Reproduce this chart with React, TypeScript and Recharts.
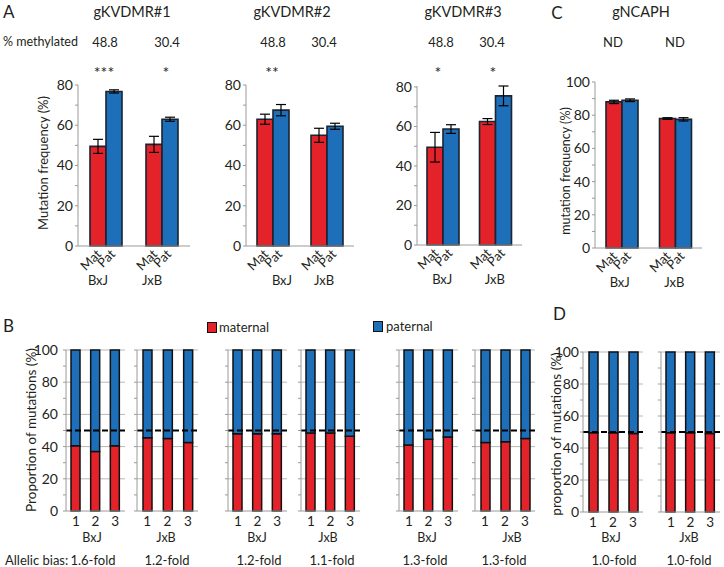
import React from 'react';
import { BarChart, Bar, XAxis, YAxis, ErrorBar, ReferenceLine, CartesianGrid } from 'recharts';

const FONT = 'Lato, "Open Sans", sans-serif';
const RED = '#e4222a';
const BLUE = '#1c6fb8';
const EDGE = '#1b2430';
const AXIS = '#9a9a9a';
const INK = '#231f20';

const CROSSES = ['BxJ', 'JxB'];
const REPLICATES = ['1', '2', '3'];

// A / C: mutation frequency (%), mean and error per cross
const KV1_MAT = [49.5, 50.5];
const KV1_PAT = [76.8, 63];
const KV1_MAT_ERR = [3.5, 4];
const KV1_PAT_ERR = [0.8, 1];

const KV2_MAT = [63, 55];
const KV2_PAT = [67.5, 59.5];
const KV2_MAT_ERR = [2.5, 3.5];
const KV2_PAT_ERR = [2.8, 1.5];

const KV3_MAT = [49.5, 62.5];
const KV3_PAT = [58.7, 75.5];
const KV3_MAT_ERR = [7.5, 1.5];
const KV3_PAT_ERR = [2.2, 5];

const NCAPH_MAT = [88, 78];
const NCAPH_PAT = [89, 77.5];
const NCAPH_MAT_ERR = [1, 0.5];
const NCAPH_PAT_ERR = [0.8, 1];

const FREQ_TICKS_80 = [0, 10, 20, 30, 40, 50, 60, 70, 80];
const FREQ_TICKS_100 = [0, 10, 20, 30, 40, 50, 60, 70, 80, 90, 100];
const PROP_TICKS = [0, 10, 20, 30, 40, 50, 60, 70, 80, 90, 100];
const PROP_GRID = [20, 40, 60, 80, 100];

const KV_METHYLATED = ['48.8', '30.4'];
const NCAPH_METHYLATED = ['ND', 'ND'];
const KV1_STARS = ['***', '*'];
const KV2_STARS = ['**', ''];
const KV3_STARS = ['*', '*'];

// B / D: proportion of maternal vs paternal mutations (%)
const KV1_BXJ_MAT = [40.5, 37, 40.5];
const KV1_BXJ_PAT = [59.5, 63, 59.5];
const KV1_JXB_MAT = [45.5, 45, 42.5];
const KV1_JXB_PAT = [54.5, 55, 57.5];
const KV2_BXJ_MAT = [48, 48, 48];
const KV2_BXJ_PAT = [52, 52, 52];
const KV2_JXB_MAT = [48.5, 48.5, 46.5];
const KV2_JXB_PAT = [51.5, 51.5, 53.5];
const KV3_BXJ_MAT = [41, 44.5, 46];
const KV3_BXJ_PAT = [59, 55.5, 54];
const KV3_JXB_MAT = [42.5, 43, 45];
const KV3_JXB_PAT = [57.5, 57, 55];
const NCAPH_BXJ_MAT = [49.5, 49.5, 49];
const NCAPH_BXJ_PAT = [50.5, 50.5, 51];
const NCAPH_JXB_MAT = [49.5, 49.5, 49];
const NCAPH_JXB_PAT = [50.5, 50.5, 51];

const FOLDS = ['1.6-fold', '1.2-fold', '1.2-fold', '1.1-fold', '1.3-fold', '1.3-fold', '1.0-fold', '1.0-fold'];

const YW = 36;

function Txt({ x, y, size = 13, anchor = 'middle', rotate = 0, children }: any) {
  const tx = anchor === 'middle' ? '-50%' : anchor === 'end' ? '-100%' : '0';
  return (
    <div
      style={{
        position: 'absolute',
        left: x,
        top: y,
        fontSize: size,
        lineHeight: 1,
        whiteSpace: 'nowrap',
        transform: `translate(${tx},-50%) rotate(${rotate}deg)`,
      }}
    >
      {children}
    </div>
  );
}

function FreqTick(props: any) {
  const { x, y, payload, index, labelDx } = props;
  return (
    <g fontFamily={FONT} fontSize={13} fill={INK}>
      <text transform={`translate(${x - 4},${y + 9}) rotate(-45)`} textAnchor="end" fill={INK}>Mat</text>
      <text transform={`translate(${x + 10},${y + 9}) rotate(-45)`} textAnchor="end" fill={INK}>Pat</text>
      <text x={x + (labelDx[index] || 0)} y={y + 38.5} textAnchor="middle" fill={INK}>{payload.value}</text>
    </g>
  );
}

function FreqChart({ mat, pat, matErr, patErr, x0, x1, yTop, yBot, yMax, ticks, labelDx }: any) {
  const MT = 12;
  const XH = 50;
  const data = CROSSES.map((c, i) => ({ cross: c, mat: mat[i], pat: pat[i], matErr: matErr[i], patErr: patErr[i] }));
  return (
    <div style={{ position: 'absolute', left: x0 - YW, top: yTop - MT }}>
      <BarChart
        width={x1 - x0 + YW}
        height={yBot - yTop + MT + XH}
        data={data}
        margin={{ top: MT, right: 0, bottom: 0, left: 0 }}
        barGap={0}
        barSize={16}
      >
        <XAxis
          dataKey="cross"
          height={XH}
          axisLine={{ stroke: AXIS }}
          tickLine={false}
          tickSize={0}
          tickMargin={0}
          interval={0}
          tick={(p: any) => <FreqTick {...p} labelDx={labelDx} />}
        />
        <YAxis
          width={YW}
          domain={[0, yMax]}
          ticks={ticks}
          interval={0}
          tickFormatter={(v: number) => (v % 20 === 0 ? String(v) : '')}
          axisLine={{ stroke: AXIS }}
          tickLine={{ stroke: AXIS }}
          tickSize={3}
          tickMargin={2}
          tick={{ fontSize: 14, fill: INK, fontFamily: FONT }}
        />
        <Bar dataKey="mat" fill={RED} stroke={EDGE} strokeWidth={1.6} isAnimationActive={false}>
          <ErrorBar dataKey="matErr" width={5} stroke="#000" strokeWidth={1.2} />
        </Bar>
        <Bar dataKey="pat" fill={BLUE} stroke={EDGE} strokeWidth={1.6} isAnimationActive={false}>
          <ErrorBar dataKey="patErr" width={5} stroke="#000" strokeWidth={1.2} />
        </Bar>
      </BarChart>
    </div>
  );
}

// grid rows at 20-unit steps while the axis keeps minor ticks at 10
const gridRows = ({ yAxis, offset }: any) =>
  PROP_GRID.map((v) =>
    typeof yAxis?.scale === 'function'
      ? yAxis.scale(v)
      : offset.top + offset.height * (1 - v / 100),
  );

function PropChart({ mat, pat, x0, x1, yTop, yBot, showLabels, gap }: any) {
  const MT = 12;
  const XH = 26;
  const data = REPLICATES.map((r, i) => ({ rep: r, mat: mat[i], pat: pat[i] }));
  return (
    <div style={{ position: 'absolute', left: x0 - YW, top: yTop - MT }}>
      <BarChart
        width={x1 - x0 + YW + 3}
        height={yBot - yTop + MT + XH}
        data={data}
        margin={{ top: MT, right: 3, bottom: 0, left: 0 }}
        barSize={9}
      >
        <CartesianGrid vertical={false} stroke="#b8b8b8" horizontalCoordinatesGenerator={gridRows} />
        <XAxis
          dataKey="rep"
          height={XH}
          axisLine={{ stroke: AXIS }}
          tickLine={false}
          tickSize={0}
          tickMargin={5}
          interval={0}
          tick={{ fontSize: 13.5, fill: INK, fontFamily: FONT }}
        />
        <YAxis
          width={YW}
          domain={[0, 100]}
          ticks={PROP_TICKS}
          interval={0}
          tickFormatter={(v: number) => (showLabels && v % 20 === 0 ? String(v) : '')}
          axisLine={{ stroke: AXIS }}
          tickLine={{ stroke: AXIS }}
          tickSize={3}
          tickMargin={gap}
          tick={{ fontSize: 14, fill: INK, fontFamily: FONT }}
        />
        <Bar dataKey="mat" stackId="s" fill={RED} stroke="#111" strokeWidth={1.5} isAnimationActive={false} />
        <Bar dataKey="pat" stackId="s" fill={BLUE} stroke="#111" strokeWidth={1.5} isAnimationActive={false} />
        <ReferenceLine y={50} stroke="#000" strokeWidth={2} strokeDasharray="6 3" />
      </BarChart>
    </div>
  );
}

const PROP_PANELS = [
  { mat: KV1_BXJ_MAT, pat: KV1_BXJ_PAT, x0: 66, x1: 125, top: 350, bot: 511, show: true, gap: 5, cross: 'BxJ', cx: 92 },
  { mat: KV1_JXB_MAT, pat: KV1_JXB_PAT, x0: 137, x1: 198, top: 350, bot: 511, show: false, gap: 2, cross: 'JxB', cx: 166 },
  { mat: KV2_BXJ_MAT, pat: KV2_BXJ_PAT, x0: 228, x1: 287, top: 350, bot: 511, show: false, gap: 2, cross: 'BxJ', cx: 257 },
  { mat: KV2_JXB_MAT, pat: KV2_JXB_PAT, x0: 301, x1: 360, top: 350, bot: 511, show: false, gap: 2, cross: 'JxB', cx: 328 },
  { mat: KV3_BXJ_MAT, pat: KV3_BXJ_PAT, x0: 399, x1: 458, top: 350, bot: 511, show: false, gap: 2, cross: 'BxJ', cx: 427 },
  { mat: KV3_JXB_MAT, pat: KV3_JXB_PAT, x0: 475, x1: 535, top: 350, bot: 511, show: false, gap: 2, cross: 'JxB', cx: 512 },
  { mat: NCAPH_BXJ_MAT, pat: NCAPH_BXJ_PAT, x0: 583, x1: 643, top: 352, bot: 512, show: true, gap: 1, cross: 'BxJ', cx: 611 },
  { mat: NCAPH_JXB_MAT, pat: NCAPH_JXB_PAT, x0: 661, x1: 720, top: 352, bot: 512, show: false, gap: 2, cross: 'JxB', cx: 689 },
];
const FOLD_X = [93, 167, 259, 332, 425, 504, 614, 689];

export default function App() {
  return (
    <div
      style={{
        position: 'absolute',
        left: 0,
        top: 0,
        width: 724,
        height: 567,
        background: '#fff',
        fontFamily: FONT,
        color: INK,
        overflow: 'hidden',
      }}
    >
      {/* panel A / C headers */}
      <Txt x={3} y={11} size={17} anchor="start">A</Txt>
      <Txt x={132} y={12} size={14.5}>gKVDMR#1</Txt>
      <Txt x={292} y={12} size={14.5}>gKVDMR#2</Txt>
      <Txt x={463} y={12} size={14.5}>gKVDMR#3</Txt>
      <Txt x={557} y={12} size={17}>C</Txt>
      <Txt x={641} y={12} size={14.5}>gNCAPH</Txt>

      <Txt x={3} y={42} size={12.5} anchor="start">% methylated</Txt>
      <Txt x={105} y={42}>{KV_METHYLATED[0]}</Txt>
      <Txt x={167} y={42}>{KV_METHYLATED[1]}</Txt>
      <Txt x={273} y={42}>{KV_METHYLATED[0]}</Txt>
      <Txt x={324} y={42}>{KV_METHYLATED[1]}</Txt>
      <Txt x={441} y={42}>{KV_METHYLATED[0]}</Txt>
      <Txt x={492} y={42}>{KV_METHYLATED[1]}</Txt>
      <Txt x={613} y={42}>{NCAPH_METHYLATED[0]}</Txt>
      <Txt x={675} y={42}>{NCAPH_METHYLATED[1]}</Txt>

      <Txt x={104} y={72} size={16}>{KV1_STARS[0]}</Txt>
      <Txt x={166} y={72} size={16}>{KV1_STARS[1]}</Txt>
      <Txt x={272} y={72} size={16}>{KV2_STARS[0]}</Txt>
      <Txt x={438} y={72} size={16}>{KV3_STARS[0]}</Txt>
      <Txt x={493} y={72} size={16}>{KV3_STARS[1]}</Txt>

      <Txt x={43} y={163} size={13} rotate={-90}>Mutation frequency (%)</Txt>
      <Txt x={566} y={171} size={12.5} rotate={-90}>mutation frequency (%)</Txt>

      <FreqChart mat={KV1_MAT} pat={KV1_PAT} matErr={KV1_MAT_ERR} patErr={KV1_PAT_ERR}
        x0={78} x1={190} yTop={85} yBot={246} yMax={80} ticks={FREQ_TICKS_80} labelDx={[-8, -10]} />
      <FreqChart mat={KV2_MAT} pat={KV2_PAT} matErr={KV2_MAT_ERR} patErr={KV2_PAT_ERR}
        x0={246} x1={354} yTop={85} yBot={246} yMax={80} ticks={FREQ_TICKS_80} labelDx={[9, -3]} />
      <FreqChart mat={KV3_MAT} pat={KV3_PAT} matErr={KV3_MAT_ERR} patErr={KV3_PAT_ERR}
        x0={417} x1={522} yTop={86} yBot={245} yMax={80} ticks={FREQ_TICKS_80} labelDx={[-1, -1]} />
      <FreqChart mat={NCAPH_MAT} pat={NCAPH_PAT} matErr={NCAPH_MAT_ERR} patErr={NCAPH_PAT_ERR}
        x0={595} x1={702} yTop={82} yBot={248} yMax={100} ticks={FREQ_TICKS_100} labelDx={[-2, -1]} />

      {/* panel B / D */}
      <Txt x={3} y={325} size={17} anchor="start">B</Txt>
      <Txt x={553} y={313} size={17} anchor="start">D</Txt>
      <div style={{ position: 'absolute', left: 207, top: 322, width: 8, height: 9, background: RED, border: '1px solid #111' }} />
      <Txt x={219} y={327} size={13} anchor="start">maternal</Txt>
      <div style={{ position: 'absolute', left: 373, top: 321, width: 8, height: 9, background: BLUE, border: '1px solid #111' }} />
      <Txt x={386} y={326} size={13} anchor="start">paternal</Txt>

      <Txt x={32} y={430} size={13.5} rotate={-90}>Proportion of mutations (%)</Txt>
      <Txt x={557} y={434} size={13.5} rotate={-90}>proportion of mutations (%)</Txt>

      {PROP_PANELS.map((p, i) => (
        <React.Fragment key={i}>
          <PropChart mat={p.mat} pat={p.pat} x0={p.x0} x1={p.x1} yTop={p.top} yBot={p.bot} showLabels={p.show} gap={p.gap} />
          <Txt x={p.cx} y={538} size={12.5}>{p.cross}</Txt>
          <Txt x={FOLD_X[i]} y={560} size={13}>{FOLDS[i]}</Txt>
        </React.Fragment>
      ))}
      <Txt x={5} y={560} size={13} anchor="start">Allelic bias:</Txt>
    </div>
  );
}
